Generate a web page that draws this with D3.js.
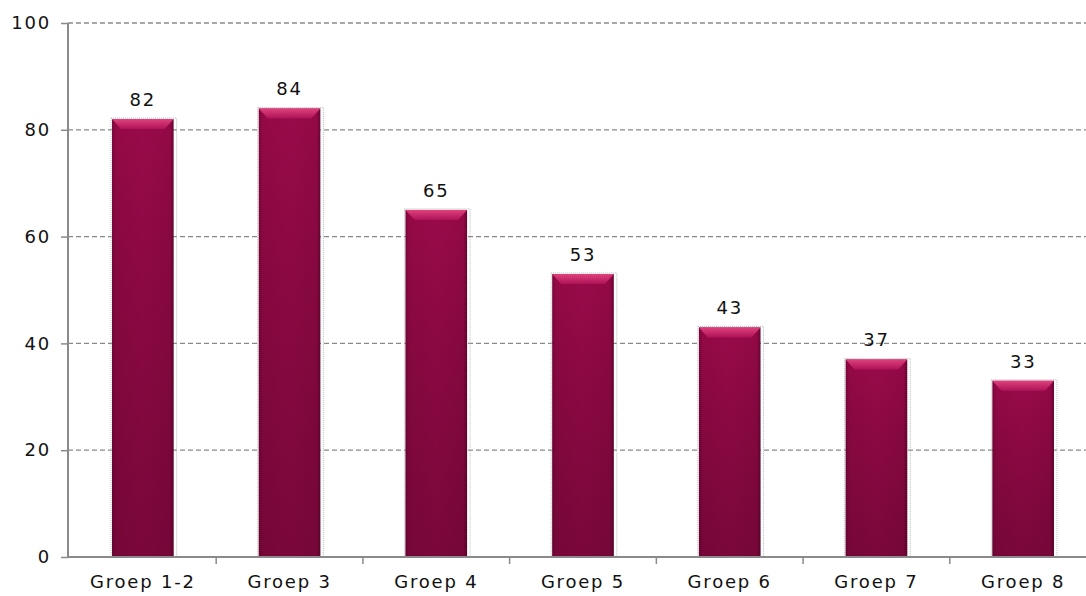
<!DOCTYPE html>
<html>
<head>
<meta charset="utf-8">
<script src="https://cdn.jsdelivr.net/npm/d3@7"></script>
<style>
  body { margin: 0; background: #fff; }
  svg { display: block; }
  text { font-family: "DejaVu Sans", Verdana, sans-serif; }
</style>
</head>
<body>
<svg id="chart" width="1086" height="596"></svg>
<script>
// chart data
const categories = ['Groep 1-2', 'Groep 3', 'Groep 4', 'Groep 5', 'Groep 6', 'Groep 7', 'Groep 8'];
const values = [82, 84, 65, 53, 43, 37, 33];
const yTicks = [0, 20, 40, 60, 80, 100];

// layout
const margin = { top: 23, left: 68 };
const plotWidth = 1030;
const plotHeight = 534;
const fontSize = 18;
const spacing = 1.8;

const svg = d3.select('#chart');
const defs = svg.append('defs');

// horizontal shading of the bar body
const bodyGrad = defs.append('linearGradient').attr('id', 'bodyGrad')
    .attr('x1', 0).attr('y1', 0).attr('x2', 1).attr('y2', 0);
bodyGrad.append('stop').attr('offset', '0%').attr('stop-color', '#7a063b');
bodyGrad.append('stop').attr('offset', '6%').attr('stop-color', '#940946');
bodyGrad.append('stop').attr('offset', '50%').attr('stop-color', '#9a0a4a');
bodyGrad.append('stop').attr('offset', '94%').attr('stop-color', '#930946');
bodyGrad.append('stop').attr('offset', '100%').attr('stop-color', '#6a0532');

// darkening towards the bottom
const fadeGrad = defs.append('linearGradient').attr('id', 'fadeGrad')
    .attr('x1', 0).attr('y1', 0).attr('x2', 0).attr('y2', 1);
fadeGrad.append('stop').attr('offset', '0%').attr('stop-color', '#000').attr('stop-opacity', 0);
fadeGrad.append('stop').attr('offset', '100%').attr('stop-color', '#2a0012').attr('stop-opacity', 0.28);

// top bevel
const capGrad = defs.append('linearGradient').attr('id', 'capGrad')
    .attr('x1', 0).attr('y1', 0).attr('x2', 0).attr('y2', 1);
capGrad.append('stop').attr('offset', '0%').attr('stop-color', '#e0417c');
capGrad.append('stop').attr('offset', '100%').attr('stop-color', '#ad1357');

const g = svg.append('g').attr('transform', `translate(${margin.left},${margin.top})`);

const x = d3.scaleBand()
    .domain(categories)
    .range([0, plotWidth])
    .paddingInner(0.58)
    .paddingOuter(0.3);

const y = d3.scaleLinear()
    .domain([0, 100])
    .range([plotHeight, 0]);

// gridlines
g.selectAll('.grid')
    .data(yTicks.filter(d => d > 0))
    .enter().append('line')
    .attr('x1', 0)
    .attr('x2', plotWidth)
    .attr('y1', d => y(d))
    .attr('y2', d => y(d))
    .attr('stroke', '#8a8a8a')
    .attr('stroke-width', 1.3)
    .attr('stroke-dasharray', '5,3');

// bars
const bars = g.selectAll('.bar')
    .data(categories.map((c, i) => ({ name: c, value: values[i] })))
    .enter().append('g')
    .attr('class', 'bar');

// faint shadow outline
bars.append('rect')
    .attr('x', d => x(d.name) - 1)
    .attr('y', d => y(d.value) - 1)
    .attr('width', x.bandwidth() + 4)
    .attr('height', d => plotHeight - y(d.value) + 1)
    .attr('fill', 'none')
    .attr('stroke', '#b8b8b8')
    .attr('stroke-width', 1)
    .attr('stroke-dasharray', '1,1');

bars.append('rect')
    .attr('x', d => x(d.name))
    .attr('y', d => y(d.value))
    .attr('width', x.bandwidth())
    .attr('height', d => plotHeight - y(d.value))
    .attr('fill', 'url(#bodyGrad)');

bars.append('rect')
    .attr('x', d => x(d.name))
    .attr('y', d => y(d.value))
    .attr('width', x.bandwidth())
    .attr('height', d => plotHeight - y(d.value))
    .attr('fill', 'url(#fadeGrad)');

// bevel on top of each bar
bars.append('path')
    .attr('d', d => {
        const x0 = x(d.name), x1 = x0 + x.bandwidth(), y0 = y(d.value);
        return `M${x0},${y0}L${x1},${y0}L${x1 - 9},${y0 + 10}L${x0 + 9},${y0 + 10}Z`;
    })
    .attr('fill', 'url(#capGrad)');

// value labels
bars.append('text')
    .attr('x', d => x(d.name) + x.bandwidth() / 2)
    .attr('y', d => y(d.value) - 13)
    .attr('text-anchor', 'middle')
    .attr('font-size', fontSize)
    .attr('letter-spacing', spacing)
    .attr('fill', '#111')
    .text(d => d.value);

// y axis
const yAxis = g.append('g')
    .call(d3.axisLeft(y).tickValues(yTicks).tickSize(7).tickPadding(10));
yAxis.select('.domain').attr('stroke', '#8a8a8a').attr('stroke-width', 2)
    .attr('d', `M0,${plotHeight}V0`);
yAxis.selectAll('.tick line').attr('stroke', '#8a8a8a').attr('stroke-width', 1.5);
yAxis.selectAll('.tick text').attr('font-size', fontSize).attr('fill', '#111')
    .attr('letter-spacing', spacing)
    .style('font-family', '"DejaVu Sans", Verdana, sans-serif');

// x axis with ticks between categories
const xAxis = g.append('g').attr('transform', `translate(0,${plotHeight})`);
xAxis.append('line')
    .attr('x1', 0).attr('x2', plotWidth)
    .attr('stroke', '#8a8a8a').attr('stroke-width', 2);
xAxis.selectAll('.sep')
    .data(categories.slice(1))
    .enter().append('line')
    .attr('x1', d => x(d) - x.step() * x.paddingInner() / 2)
    .attr('x2', d => x(d) - x.step() * x.paddingInner() / 2)
    .attr('y1', 0).attr('y2', 7)
    .attr('stroke', '#8a8a8a').attr('stroke-width', 1.5);
xAxis.selectAll('.lbl')
    .data(categories)
    .enter().append('text')
    .attr('x', d => x(d) + x.bandwidth() / 2)
    .attr('y', 31)
    .attr('text-anchor', 'middle')
    .attr('font-size', fontSize)
    .attr('letter-spacing', spacing)
    .attr('fill', '#111')
    .text(d => d);
</script>
</body>
</html>
